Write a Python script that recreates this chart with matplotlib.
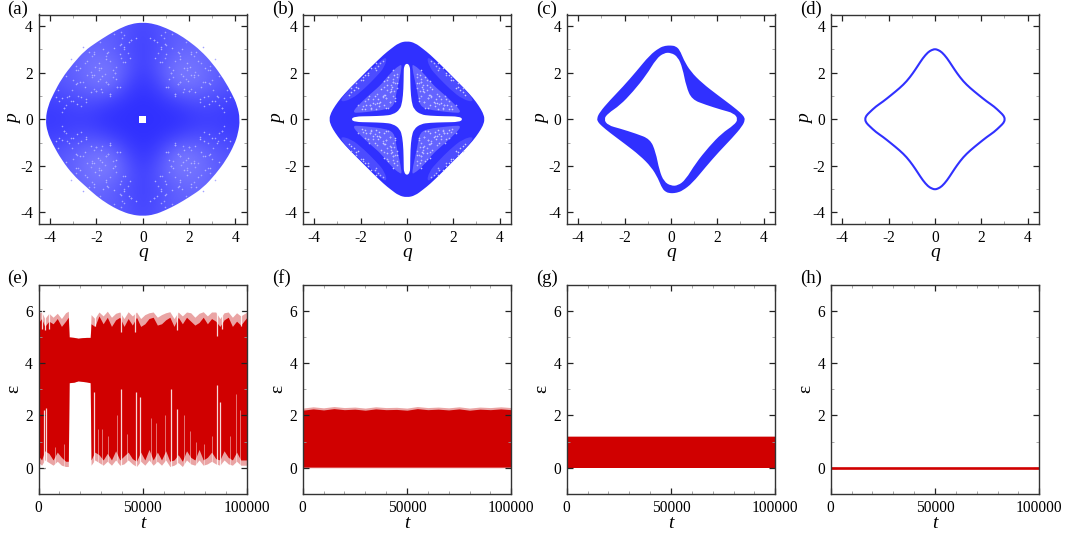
import matplotlib
matplotlib.use('Agg')
import matplotlib.pyplot as plt
from matplotlib.colors import LinearSegmentedColormap
from matplotlib.patches import PathPatch
from matplotlib.path import Path

plt.rcParams['font.family'] = ['Liberation Serif', 'DejaVu Serif']
plt.rcParams['axes.unicode_minus'] = False

BLUE = '#3030ff'
MID = '#4c4cff'
PALE = '#6464ff'
RED = '#d00000'
PINK = '#eaa4a4'

# panel labels
top_labels = ['(a)', '(b)', '(c)', '(d)']
bottom_labels = ['(e)', '(f)', '(g)', '(h)']
t_ticks = [0, 50000, 100000]

# panel a, outline
a_q = [0, 0.5, 1, 1.5, 2, 2.5, 3, 3.5, 3.85, 4.08, 4.2, 4.12, 3.95, 3.6, 3.15, 2.6, 2, 1.5, 1, 0.5, 0,
       -0.5, -1, -1.5, -2, -2.5, -3, -3.5, -3.9, -4.12, -4.2, -4.08, -3.85, -3.5, -3, -2.5, -2, -1.5, -1, -0.5]
a_p = [4.16, 4.1, 3.92, 3.68, 3.35, 2.95, 2.42, 1.72, 1.1, 0.6, 0, -0.6, -1.1, -1.75, -2.35, -2.95, -3.35, -3.65, -3.9, -4.1, -4.16,
       -4.1, -3.92, -3.65, -3.3, -2.85, -2.4, -1.75, -1.05, -0.55, 0, 0.6, 1.1, 1.75, 2.4, 2.95, 3.3, 3.62, 3.9, 4.1]
# how sparse the points look in panel a, 0 dense, 1 sparse; rows p = 4.5 ... -4.5, columns q = -4.5 ... 4.5
a_sparse = [
    [.40, .40, .40, .40, .40, .40, .30, .40, .40, .40, .40, .40, .40],
    [.40, .40, .40, .50, .55, .40, .20, .40, .55, .50, .40, .40, .40],
    [.40, .40, .55, .65, .55, .35, .20, .35, .55, .65, .55, .40, .40],
    [.40, .45, .55, .75, .80, .50, .15, .50, .80, .75, .55, .45, .40],
    [.30, .40, .50, .70, .80, .30, .05, .30, .80, .75, .55, .40, .30],
    [.20, .20, .30, .35, .20, .05, .00, .05, .20, .35, .30, .20, .20],
    [.10, .10, .15, .10, .00, .00, .00, .00, .00, .10, .15, .10, .10],
    [.20, .20, .30, .35, .20, .05, .00, .05, .20, .35, .30, .20, .20],
    [.30, .40, .55, .75, .80, .30, .05, .30, .85, .75, .50, .40, .30],
    [.40, .45, .55, .80, .85, .50, .15, .50, .80, .75, .55, .45, .40],
    [.40, .40, .55, .65, .55, .35, .20, .35, .55, .65, .55, .40, .40],
    [.40, .40, .40, .50, .55, .40, .20, .40, .55, .50, .40, .40, .40],
    [.40, .40, .40, .40, .40, .40, .30, .40, .40, .40, .40, .40, .40],
]
a_hole_q = [-0.16, 0.16, 0.16, -0.16]
a_hole_p = [-0.16, -0.16, 0.16, 0.16]
# lighter specks in panel a, one octant-ish sample, reflected when drawn
a_speck_q = [2.1, 1.8, 1.5, 2.4, 2.7, 1.2, 1.6, 2.0, 2.9, 1.0, 2.3, 1.4, 1.3, 1.6, 1.9, 2.2, 2.5, 1.0, 1.4, 1.8,
             2.1, 2.7, 2.9, 1.7, 3.5, 3.2, 3.4, 3.6, 0.6, 0.5, 0.3, 0.8, 3.1, 3.0, 1.15, 1.55, 2.25, 2.65, 3.3, 1.95,
             0.55, 0.75, 3.75, 2.85, 1.25, 2.05, 0.95, 3.65, 2.45, 1.75]
a_speck_p = [1.9, 2.2, 1.5, 2.5, 1.6, 2.0, 2.6, 1.2, 2.1, 1.4, 2.9, 1.1, 2.1, 1.6, 2.4, 1.9, 1.4, 2.8, 1.1, 1.3,
             2.8, 2.2, 1.5, 3.0, 0.9, 1.0, 0.5, 0.8, 3.3, 3.4, 3.5, 3.1, 2.6, 0.8, 1.75, 2.85, 1.15, 0.95, 1.85, 1.65,
             2.65, 2.45, 0.95, 0.65, 3.05, 2.25, 3.25, 1.25, 0.85, 1.85]

# panel b
b_q = [0, 0.35, 0.7, 1, 1.5, 2, 2.5, 2.85, 3.1, 3.28, 3.36, 3.28, 3.1, 2.85, 2.5, 2, 1.5, 1, 0.7, 0.35, 0,
       -0.35, -0.7, -1, -1.5, -2, -2.5, -2.85, -3.1, -3.28, -3.36, -3.28, -3.1, -2.85, -2.5, -2, -1.5, -1, -0.7, -0.35]
b_p = [3.36, 3.28, 3.02, 2.78, 2.3, 1.8, 1.3, 0.92, 0.58, 0.28, 0, -0.28, -0.58, -0.92, -1.3, -1.8, -2.3, -2.78, -3.02, -3.28, -3.36,
       -3.28, -3.02, -2.78, -2.3, -1.8, -1.3, -0.92, -0.58, -0.28, 0, 0.28, 0.58, 0.92, 1.3, 1.8, 2.3, 2.78, 3.02, 3.28]
# pale strip near the edge, first quadrant, and inner speckled triangle
b_strip_q = [0.85, 1.4, 2.0, 2.55, 2.95, 2.4, 1.85, 1.35, 0.95]
b_strip_p = [2.75, 2.28, 1.75, 1.25, 0.72, 0.85, 1.3, 1.8, 2.25]
b_tri_q = [0.2, 0.45, 0.55, 1.0, 1.5, 2.0, 2.4, 1.9, 1.5, 1.1, 0.75, 0.3]
b_tri_p = [2.3, 1.2, 0.55, 0.4, 0.34, 0.28, 0.28, 0.8, 1.15, 1.5, 1.95, 2.35]
b_signs = [(1, 1), (-1, 1), (1, -1), (-1, -1)]
b_hole_q = [0, 0.13, 0.14, 0.15, 0.2, 0.3, 0.6, 1.0, 1.6, 2.25, 2.42, 2.25, 1.6, 1.0, 0.6, 0.3, 0.2, 0.15, 0.14, 0.13, 0,
            -0.13, -0.14, -0.15, -0.2, -0.3, -0.6, -1.0, -1.6, -2.25, -2.42, -2.25, -1.6, -1.0, -0.6, -0.3, -0.2, -0.15, -0.14, -0.13]
b_hole_p = [2.42, 2.28, 2.0, 1.3, 0.75, 0.42, 0.2, 0.15, 0.13, 0.12, 0, -0.12, -0.13, -0.15, -0.2, -0.42, -0.75, -1.3, -2.0, -2.28, -2.42,
            -2.28, -2.0, -1.3, -0.75, -0.42, -0.2, -0.15, -0.13, -0.12, 0, 0.12, 0.13, 0.15, 0.2, 0.42, 0.75, 1.3, 2.0, 2.28]
b_speck_q = [0.6, 0.9, 1.3, 1.6, 0.7, 1.1, 1.8, 0.5, 1.0, 1.4, 0.8, 1.2, 0.65, 0.95, 1.25, 1.55, 0.75, 1.05, 1.75, 0.55,
             1.35, 0.85, 1.15, 1.95, 0.45, 1.45, 1.7, 0.9, 0.6, 1.0, 1.7, 2.2, 1.8, 2.4, 1.9, 2.1, 1.35, 1.55, 2.5, 2.3]
b_speck_p = [1.6, 0.9, 0.7, 0.6, 1.2, 1.3, 0.45, 0.8, 0.6, 1.0, 1.8, 0.55, 1.4, 1.05, 0.85, 0.5, 0.75, 1.0, 0.6, 1.9,
             0.45, 1.45, 0.75, 0.42, 1.55, 0.7, 0.85, 0.5, 2.1, 1.65, 2.0, 1.4, 1.9, 1.15, 1.7, 1.35, 2.4, 2.2, 1.05, 1.25]

# panel c, outer and inner edge of the band
c_outer_q = [0, 0.2, 0.38, 0.55, 0.85, 1.35, 2.0, 2.65, 3.0, 3.15, 3.2, 3.08, 2.65, 2.07, 1.5, 0.92, 0.5, 0.25, 0.05,
             -0.05, -0.2, -0.38, -0.55, -0.85, -1.35, -2.0, -2.65, -3.0, -3.15, -3.2, -3.08, -2.65, -2.07, -1.5, -0.92, -0.5, -0.25]
c_outer_p = [3.17, 3.14, 2.98, 2.55, 2.05, 1.55, 1.05, 0.57, 0.28, 0.12, -0.03, -0.3, -0.8, -1.4, -2.05, -2.75, -3.07, -3.16, -3.18,
             -3.17, -3.14, -2.98, -2.55, -2.05, -1.55, -1.05, -0.57, -0.28, -0.12, 0.03, 0.3, 0.8, 1.4, 2.05, 2.75, 3.07, 3.16]
c_inner_q = [0, 0.3, 0.5, 0.66, 0.9, 1.5, 2.2, 2.72, 2.9, 2.72, 2.2, 1.64, 1.06, 0.63, 0.3, 0,
             -0.3, -0.5, -0.66, -0.9, -1.5, -2.2, -2.72, -2.9, -2.72, -2.2, -1.64, -1.06, -0.63, -0.3]
c_inner_p = [2.86, 2.68, 2.2, 1.4, 0.85, 0.62, 0.4, 0.26, 0, -0.25, -0.6, -1.18, -1.9, -2.6, -2.85, -2.86,
             -2.68, -2.2, -1.4, -0.85, -0.62, -0.4, -0.26, 0, 0.25, 0.6, 1.18, 1.9, 2.6, 2.85]

# panel d, closed curve
d_q = [0, 0.15, 0.3, 0.52, 0.75, 0.95, 1.22, 1.52, 1.9, 2.24, 2.55, 2.82, 2.97, 3.02, 2.97, 2.82, 2.55, 2.24, 1.9, 1.52, 1.22, 0.95, 0.75, 0.52, 0.3, 0.15,
       0, -0.15, -0.3, -0.52, -0.75, -0.95, -1.22, -1.52, -1.9, -2.24, -2.55, -2.82, -2.97, -3.02, -2.97, -2.82, -2.55, -2.24, -1.9, -1.52, -1.22, -0.95, -0.75, -0.52, -0.3, -0.15]
d_p = [3.02, 2.97, 2.88, 2.63, 2.28, 1.98, 1.63, 1.34, 1.03, 0.76, 0.55, 0.3, 0.15, 0, -0.15, -0.3, -0.55, -0.76, -1.03, -1.34, -1.63, -1.98, -2.28, -2.63, -2.88, -2.97,
       -3.02, -2.97, -2.88, -2.63, -2.28, -1.98, -1.63, -1.34, -1.03, -0.76, -0.55, -0.3, -0.15, 0, 0.15, 0.3, 0.55, 0.76, 1.03, 1.34, 1.63, 1.98, 2.28, 2.63, 2.88, 2.97]

# panel e, envelope of the signal
e_t = [0, 1500, 3000, 5000, 7000, 9000, 11000, 13000, 14300, 14700, 17000, 19000, 21000, 23000, 24800, 25200,
       27000, 29000, 31000, 33000, 35000, 37000, 39000, 41000, 43000, 45000, 47000, 49000, 51000, 53000, 55000,
       57000, 59000, 61000, 63000, 65000, 67000, 69000, 71000, 73000, 75000, 77000, 79000, 81000, 83000, 85000,
       87000, 89000, 91000, 93000, 95000, 97000, 100000]
e_top = [5.9, 5.95, 5.7, 5.9, 5.75, 5.9, 5.7, 5.92, 5.98, 5.0, 4.98, 4.95, 4.97, 4.98, 4.98, 5.85,
         5.7, 5.95, 5.8, 5.98, 5.75, 5.9, 5.95, 5.7, 5.96, 5.8, 5.95, 5.7, 5.85, 5.92, 5.95,
         5.75, 5.85, 5.92, 5.96, 5.7, 5.95, 5.8, 5.95, 5.92, 5.75, 5.9, 5.96, 5.8, 5.95, 5.95,
         5.7, 5.92, 5.95, 5.75, 5.92, 5.8, 5.95]
e_top_core = [5.55, 5.7, 5.4, 5.6, 5.5, 5.7, 5.4, 5.6, 5.75, 5.0, 4.98, 4.95, 4.97, 4.98, 4.98, 5.5,
              5.4, 5.8, 5.5, 5.75, 5.4, 5.65, 5.75, 5.4, 5.7, 5.45, 5.75, 5.4, 5.5, 5.7, 5.75,
              5.45, 5.5, 5.65, 5.75, 5.4, 5.75, 5.5, 5.75, 5.6, 5.45, 5.55, 5.75, 5.5, 5.7, 5.6,
              5.4, 5.65, 5.75, 5.4, 5.6, 5.45, 5.75]
e_low = [0.2, 0.1, 0.3, 0.2, 0.1, 0.25, 0.1, 0.05, 0.05, 3.25, 3.27, 3.32, 3.3, 3.28, 3.25, 0.1,
         0.3, 0.2, 0.1, 0.25, 0.1, 0.3, 0.1, 0.15, 0.3, 0.15, 0.05, 0.25, 0.1, 0.3, 0.1,
         0.25, 0.1, 0.3, 0.05, 0.1, 0.2, 0.05, 0.3, 0.15, 0.1, 0.3, 0.1, 0.15, 0.25, 0.15,
         0.1, 0.3, 0.15, 0.1, 0.25, 0.1, 0.1]
e_low_core = [0.45, 0.3, 0.65, 0.55, 0.3, 0.6, 0.4, 0.25, 0.25, 3.25, 3.27, 3.32, 3.3, 3.28, 3.25, 0.3,
              0.6, 0.5, 0.3, 0.55, 0.3, 0.65, 0.3, 0.45, 0.6, 0.35, 0.25, 0.6, 0.3, 0.7, 0.3,
              0.6, 0.3, 0.65, 0.25, 0.3, 0.5, 0.25, 0.65, 0.4, 0.3, 0.7, 0.3, 0.4, 0.6, 0.35,
              0.3, 0.65, 0.4, 0.3, 0.6, 0.3, 0.3]
# drop-outs of the signal, upper edge and lower edge
e_top_gap_t = [1500, 3300, 5000, 27000, 39800, 46500, 66300, 85600, 87800, 97000]
e_top_gap_v = [5.3, 5.25, 5.3, 5.4, 5.2, 5.2, 5.25, 5.05, 5.3, 5.4]
e_low_gap_t = [2600, 3600, 26800, 39800, 46800, 48500, 63500, 66400, 85800, 87200]
e_low_gap_v = [2.2, 2.3, 2.9, 3.0, 2.9, 2.7, 3.0, 2.25, 3.15, 2.5]
e_faint_t = [8000, 12000, 28500, 30500, 33500, 37500, 42500, 54000, 56500, 60500, 69800, 72500, 75500, 79500, 83000, 92000, 94500, 96500]
e_faint_v = [0.8, 0.9, 1.5, 1.5, 1.2, 2.0, 1.3, 1.9, 1.7, 2.0, 2.0, 1.4, 1.0, 0.9, 1.2, 1.2, 2.8, 2.2]

# panel f, g, h
f_t = [0, 5000, 10000, 15000, 20000, 25000, 30000, 35000, 40000, 45000, 50000, 55000, 60000, 65000, 70000, 75000, 80000, 85000, 90000, 95000, 100000]
f_top = [2.28, 2.33, 2.29, 2.34, 2.3, 2.32, 2.28, 2.33, 2.3, 2.31, 2.28, 2.34, 2.3, 2.32, 2.29, 2.33, 2.28, 2.32, 2.3, 2.33, 2.3]
f_core = [2.2, 2.25, 2.21, 2.26, 2.22, 2.24, 2.2, 2.25, 2.22, 2.23, 2.2, 2.26, 2.22, 2.24, 2.21, 2.25, 2.2, 2.24, 2.22, 2.25, 2.22]
g_t = [0, 100000]
g_top = [1.22, 1.22]
g_core = [1.18, 1.18]
h_t = [0, 100000]
h_e = [0, 0]

fig = plt.figure(figsize=(10.67, 5.33), dpi=100)
W, H = 1067.0, 533.0
lefts = [38.5, 302.7, 566.7, 830.7]
panel_w = 208.5
tops = [14.5, 284.5]
panel_h = 209.5


def closed_path(q, p):
    # typed points act as control points, the curve is rounded by the path itself
    n = len(q)
    verts = [((q[-1] + q[0]) / 2, (p[-1] + p[0]) / 2)]
    codes = [Path.MOVETO]
    for i in range(n):
        j = (i + 1) % n
        verts += [(q[i], p[i]), ((q[i] + q[j]) / 2, (p[i] + p[j]) / 2)]
        codes += [Path.CURVE3, Path.CURVE3]
    return Path(verts, codes)


def add_shape(ax, q, p, color, z=1):
    patch = PathPatch(closed_path(q, p), facecolor=color, edgecolor='none', lw=0, zorder=z)
    ax.add_patch(patch)
    return patch


def make_axes(i, row):
    ax = fig.add_axes([lefts[i] / W, 1 - (tops[row] + panel_h) / H, panel_w / W, panel_h / H])
    for s in ax.spines.values():
        s.set_linewidth(1.0)
        s.set_color('#333333')
    ax.tick_params(which='major', direction='in', top=True, right=True, length=4, width=0.9,
                   color='#222222', labelsize=11.2, pad=4)
    ax.tick_params(which='minor', direction='in', top=True, right=True, length=2.2, width=0.6, color='#999999')
    return ax


def phase_axes(i):
    ax = make_axes(i, 0)
    ax.set_xlim(-4.5, 4.5)
    ax.set_ylim(-4.5, 4.5)
    ax.set_xticks([-4, -2, 0, 2, 4])
    ax.set_yticks([-4, -2, 0, 2, 4])
    ax.set_xticks([-3, -1, 1, 3], minor=True)
    ax.set_yticks([-3, -1, 1, 3], minor=True)
    ax.set_xlabel('q', fontsize=14, style='italic', va='center')
    ax.set_ylabel('p', fontsize=14, style='italic', va='center')
    ax.xaxis.set_label_coords(0.5, -0.134)
    ax.yaxis.set_label_coords(-0.118, 0.5)
    fig.text((lefts[i] - 31) / W, 1 - 9 / H, top_labels[i], fontsize=13.5, va='center', ha='left')
    return ax


def time_axes(i):
    ax = make_axes(i, 1)
    ax.set_xlim(0, 100000)
    ax.set_ylim(-1, 7)
    ax.set_xticks(t_ticks)
    ax.set_xticks([10000, 20000, 30000, 40000, 60000, 70000, 80000, 90000], minor=True)
    ax.set_yticks([0, 2, 4, 6])
    ax.set_yticks([1, 3, 5], minor=True)
    ax.set_xlabel('t', fontsize=14, style='italic', va='center')
    ax.set_ylabel('\u03b5', fontsize=14, va='center')
    ax.xaxis.set_label_coords(0.5, -0.142)
    ax.yaxis.set_label_coords(-0.118, 0.5)
    fig.text((lefts[i] - 31) / W, 1 - 278 / H, bottom_labels[i], fontsize=13.5, va='center', ha='left')
    return ax


# (a)
ax = phase_axes(0)
sparse_map = LinearSegmentedColormap.from_list('sparse', [BLUE, '#8a8aff'])
im = ax.imshow(a_sparse, extent=(-4.875, 4.875, -4.875, 4.875), cmap=sparse_map, vmin=0, vmax=1,
               interpolation='bicubic', aspect='auto', zorder=1)
outline = add_shape(ax, a_q, a_p, 'none', z=0)
im.set_clip_path(outline)
for sq, sp in b_signs:
    ax.scatter([sq * v for v in a_speck_q], [sp * v for v in a_speck_p], s=1.3, color='#b0b0ff', lw=0, zorder=2)
    ax.scatter([sq * v for v in a_speck_p], [sp * v for v in a_speck_q], s=1.3, color='#a4a4ff', lw=0, zorder=2)
ax.fill(a_hole_q, a_hole_p, color='white', lw=0, zorder=3)
ax.set_xlim(-4.5, 4.5)
ax.set_ylim(-4.5, 4.5)

# (b)
ax = phase_axes(1)
add_shape(ax, b_q, b_p, BLUE, z=1)
for sq, sp in b_signs:
    add_shape(ax, [sq * v for v in b_strip_q], [sp * v for v in b_strip_p], MID, z=1.1)
    add_shape(ax, [sq * v for v in b_tri_q], [sp * v for v in b_tri_p], PALE, z=1.1)
    ax.scatter([sq * v for v in b_speck_q], [sp * v for v in b_speck_p], s=1.4, color='#c8c8ff', lw=0, zorder=2)
    ax.scatter([sq * v for v in b_speck_p], [sp * v for v in b_speck_q], s=1.4, color='#b8b8ff', lw=0, zorder=2)
add_shape(ax, b_hole_q, b_hole_p, 'white', z=3)

# (c)
ax = phase_axes(2)
add_shape(ax, c_outer_q, c_outer_p, BLUE, z=1)
add_shape(ax, c_inner_q, c_inner_p, 'white', z=2)

# (d)
ax = phase_axes(3)
ax.add_patch(PathPatch(closed_path(d_q, d_p), facecolor='none', edgecolor=BLUE, lw=1.5))

# (e)
ax = time_axes(0)
ax.fill_between(e_t, e_low, e_top, color=PINK, lw=0)
ax.fill_between(e_t, e_low_core, e_top_core, color=RED, lw=0)
ax.vlines(e_top_gap_t, e_top_gap_v, 6.05, color='white', lw=0.9, alpha=0.85)
ax.vlines(e_low_gap_t, 0, e_low_gap_v, color='white', lw=0.9, alpha=0.85)
ax.vlines(e_faint_t, 0, e_faint_v, color='white', lw=0.7, alpha=0.45)

# (f)
ax = time_axes(1)
ax.fill_between(f_t, 0.0, f_top, color=PINK, lw=0)
ax.fill_between(f_t, 0.03, f_core, color=RED, lw=0)

# (g)
ax = time_axes(2)
ax.fill_between(g_t, 0.0, g_top, color=PINK, lw=0)
ax.fill_between(g_t, 0.0, g_core, color=RED, lw=0)

# (h)
ax = time_axes(3)
ax.plot(h_t, h_e, color=RED, lw=1.9)

fig.savefig('out.png', dpi=100)
